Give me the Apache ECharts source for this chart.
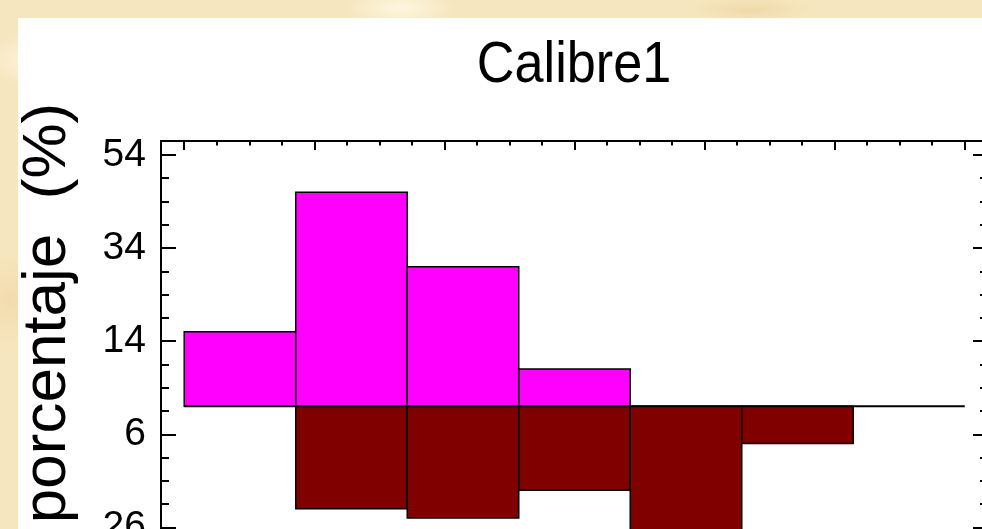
<!DOCTYPE html>
<html>
<head>
<meta charset="utf-8">
<script src="https://cdn.jsdelivr.net/npm/echarts@6/dist/echarts.min.js"></script>
<style>
html,body{margin:0;padding:0;width:982px;height:529px;overflow:hidden;}
body{background:
 radial-gradient(ellipse 60px 40px at 30px 60px, rgba(255,248,225,0.8), rgba(255,248,225,0) 70%),
 radial-gradient(ellipse 50px 70px at 10px 300px, rgba(240,215,165,0.7), rgba(240,215,165,0) 70%),
 radial-gradient(ellipse 80px 30px at 400px 8px, rgba(255,250,230,0.8), rgba(255,250,230,0) 70%),
 radial-gradient(ellipse 90px 20px at 750px 10px, rgba(238,212,160,0.7), rgba(238,212,160,0) 70%),
 #f6e6bf;}
#chart{width:982px;height:529px;}
</style>
</head>
<body>
<div id="chart"></div>
<script>
// ---- data ----
const titleText = 'Calibre1';
const yAxisTitle = 'porcentaje  (%)';
const binEdges = [0, 6, 12, 18, 24, 30, 36, 42];
const upperPct = [16, 46, 30, 8, 0, 0, 0];
const lowerPct = [0, 22, 24, 18, 28, 8, 0];
const yMajorTicks = [54, 34, 14, -6, -26, -46];
const yMinorTicks = [49, 44, 39, 29, 24, 19, 9, 4, -1, -11, -16, -21, -31, -36, -41];
const xMajorTicks = [0, 7, 14, 21, 28, 35, 42];
const xMinorTicks = [1.75, 3.5, 5.25, 8.75, 10.5, 12.25, 15.75, 17.5, 19.25, 22.75, 24.5, 26.25, 29.75, 31.5, 33.25, 36.75, 38.5, 40.25];

const X_MIN = -1.25, X_MAX = 43.25, Y_MIN = -49, Y_MAX = 57;
const PX_PER_UNIT = 4.655;

const upperData = upperPct.map((v, i) => [binEdges[i], binEdges[i + 1], v]);
const lowerData = lowerPct.map((v, i) => [binEdges[i], binEdges[i + 1], -v]);

function renderBar(color) {
  return function (params, api) {
    const x0 = api.value(0), x1 = api.value(1), v = api.value(2);
    if (v === 0) return null;
    const p0 = api.coord([x0, 0]);
    const p1 = api.coord([x1, v]);
    return {
      type: 'rect',
      shape: { x: p0[0], y: Math.min(p0[1], p1[1]), width: p1[0] - p0[0], height: Math.abs(p1[1] - p0[1]) },
      style: { fill: color, stroke: '#000', lineWidth: 1.5 }
    };
  };
}

const chart = echarts.init(document.getElementById('chart'), null, { renderer: 'canvas' });
const font = 'Liberation Sans, Arial, sans-serif';

function xAx(pos, ticks, len, line) {
  return {
    type: 'value', position: pos, min: X_MIN, max: X_MAX, offset: 0,
    axisLine: { show: line, onZero: false, lineStyle: { color: '#000', width: 2 } },
    axisTick: { show: true, inside: true, length: len, customValues: ticks, lineStyle: { color: '#000', width: 2 } },
    axisLabel: { show: false }, splitLine: { show: false }
  };
}
function yAx(pos, ticks, len, line, labels) {
  return {
    type: 'value', position: pos, min: Y_MIN, max: Y_MAX, offset: 0,
    axisLine: { show: line, onZero: false, lineStyle: { color: '#000', width: 2 } },
    axisTick: { show: true, inside: true, length: len, customValues: ticks, lineStyle: { color: '#000', width: 2 } },
    axisLabel: labels ? {
      show: true, customValues: ticks, margin: 15, color: '#000', fontFamily: font, fontSize: 39,
      formatter: v => String(Math.abs(v))
    } : { show: false },
    splitLine: { show: false }
  };
}

chart.setOption({
  animation: false,
  backgroundColor: 'transparent',
  graphic: [
    { type: 'rect', z: -10, shape: { x: 18, y: 18, width: 980, height: 520 }, style: { fill: '#ffffff' } },
    { type: 'text', x: 574, y: 66, style: { text: titleText, font: '58px "Liberation Sans", Arial, sans-serif', fill: '#000', align: 'center', verticalAlign: 'middle' }, scaleX: 0.9 },
    { type: 'text', x: 48, y: 313, rotation: Math.PI / 2, style: { text: yAxisTitle, font: '62px "Liberation Sans", Arial, sans-serif', fill: '#000', align: 'center', verticalAlign: 'middle' } }
  ],
  grid: { left: 161, top: 141, width: 988 - 161, height: (Y_MAX - Y_MIN) * PX_PER_UNIT, outerBoundsMode: 'none', containLabel: false },
  xAxis: [
    xAx('top', xMajorTicks, 9, true),
    xAx('top', xMinorTicks, 4.5, false),
    xAx('bottom', xMajorTicks, 9, true)
  ],
  yAxis: [
    yAx('left', yMajorTicks, 15, true, true),
    yAx('left', yMinorTicks, 8, false, false),
    yAx('right', yMajorTicks, 15, true, false),
    yAx('right', yMinorTicks, 8, false, false)
  ],
  series: [
    { type: 'custom', xAxisIndex: 0, yAxisIndex: 0, renderItem: renderBar('#ff00ff'), data: upperData, encode: { x: [0, 1], y: 2 }, clip: false },
    { type: 'custom', xAxisIndex: 0, yAxisIndex: 0, renderItem: renderBar('#800000'), data: lowerData, encode: { x: [0, 1], y: 2 }, clip: false },
    { type: 'line', xAxisIndex: 0, yAxisIndex: 0, data: [[binEdges[0], 0], [binEdges[binEdges.length - 1], 0]], symbol: 'none', lineStyle: { color: '#000', width: 2 }, z: 5 }
  ]
});
</script>
</body>
</html>
